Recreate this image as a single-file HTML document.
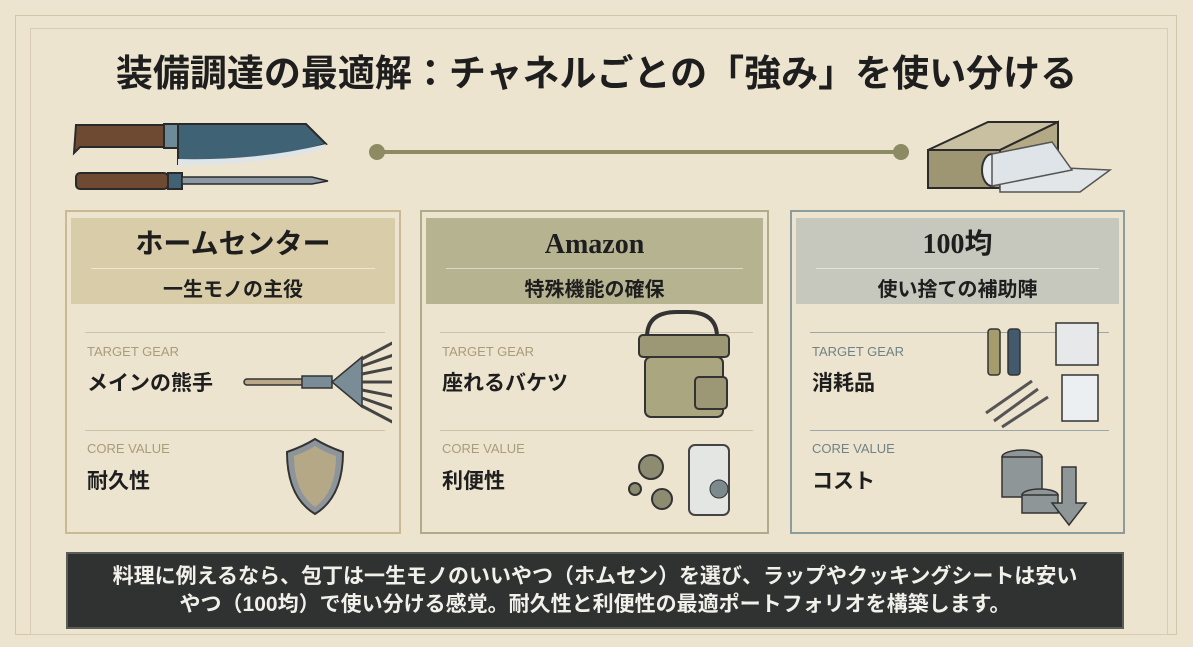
<!DOCTYPE html>
<html><head><meta charset="utf-8"><style>
*{margin:0;padding:0;box-sizing:border-box}
body{width:1193px;height:647px;background:#ede4cf;position:relative;overflow:hidden;font-family:"Liberation Sans","Noto Sans CJK JP",sans-serif;color:#1e1e1e}
.abs{position:absolute}
.title{left:0;width:1193px;top:44px;text-align:center;font-size:37px;font-weight:bold;font-family:"Noto Sans CJK JP",sans-serif;letter-spacing:0px;line-height:52px}
.card{position:absolute;top:210px;height:324px;border:2px solid}
.hd{position:absolute;left:4px;right:4px;top:6px;height:86px;text-align:center}
.hd .h1{font-size:28px;font-weight:bold;margin-top:10px;height:34px;line-height:34px;font-family:"Liberation Serif","Noto Sans CJK JP",serif}
.hd .sep{margin:6px 20px 0;border-top:1px solid rgba(255,255,255,.5)}
.hd .h2{font-size:20px;font-weight:bold;margin-top:4px}
.line{position:absolute;left:18px;right:14px;border-top:1.5px solid}
.lbl{position:absolute;left:20px;font-size:13px}
.val{position:absolute;left:20px;font-size:21px;font-weight:bold}
.bottom{left:66px;top:552px;width:1058px;height:77px;background:#2f3231;border:2px solid #5a5c58;color:#f2f0ea;font-size:21px;font-weight:bold;text-align:center;line-height:28px;padding-top:9px;white-space:nowrap}
</style></head><body>
<div class="abs" style="left:15px;top:15px;width:1162px;height:620px;border:1.5px solid #d2c6ab"></div>
<div class="abs" style="left:30px;top:28px;width:1138px;height:607px;border:1px solid #d8cdb4"></div>
<div class="abs title">装備調達の最適解：チャネルごとの「強み」を使い分ける</div>

<svg class="abs" style="left:70px;top:115px" width="300" height="80">
<path d="M6 10 h88 v22 h-84 l-6 6z" fill="#6e4a33" stroke="#2a2a2a" stroke-width="2"/>
<rect x="94" y="9" width="14" height="24" fill="#6d8a99" stroke="#2a2a2a" stroke-width="2"/>
<path d="M108 9 h128 l20 20 q-60 20 -148 20z" fill="#3f6274" stroke="#2a2a2a" stroke-width="2"/>
<path d="M108 44 q80 2 148 -15 l-2 5 q-60 16 -146 17z" fill="#dfe4e6"/>
<rect x="6" y="58" width="92" height="16" rx="4" fill="#6e4a33" stroke="#2a2a2a" stroke-width="2"/>
<rect x="98" y="58" width="14" height="16" fill="#3f6274" stroke="#2a2a2a" stroke-width="2"/>
<path d="M112 62 h130 l16 4 l-16 3 h-130z" fill="#8b9aa2" stroke="#2a2a2a" stroke-width="1.5"/>
</svg>
<div class="abs" style="left:378px;top:150px;width:522px;height:4px;background:#8d8b63"></div>
<div class="abs" style="left:369px;top:144px;width:16px;height:16px;border-radius:50%;background:#8d8b63"></div>
<div class="abs" style="left:893px;top:144px;width:16px;height:16px;border-radius:50%;background:#8d8b63"></div>
<svg class="abs" style="left:920px;top:110px" width="200" height="90">
<path d="M8 40 l60 -28 h70 l-58 28z" fill="#c8c0a0" stroke="#2a2a2a" stroke-width="2"/>
<path d="M8 40 h72 v38 h-72z" fill="#9e9672" stroke="#2a2a2a" stroke-width="2"/>
<path d="M80 40 l58 -28 v38 l-58 28z" fill="#b3aa85" stroke="#2a2a2a" stroke-width="2"/>
<path d="M80 55 l110 5 l-30 22 l-80 0z" fill="#e3e6e8" stroke="#555" stroke-width="1.5"/>
<ellipse cx="72" cy="60" rx="10" ry="16" fill="#e8ecef" stroke="#333" stroke-width="2"/>
<path d="M72 44 l60 -12 l20 28 l-80 16z" fill="#dfe4e8" stroke="#555" stroke-width="1.5"/>
</svg>

<!-- card 1 -->
<div class="card" style="left:65px;width:336px;border-color:#cbb994;">
<div class="hd" style="background:#d9cca9"><div class="h1">ホームセンター</div><div class="sep"></div><div class="h2">一生モノの主役</div></div>
<div class="line" style="top:120px;border-color:#cfc3a6"></div>
<div class="lbl" style="top:132px;color:#a99c7a">TARGET GEAR</div>
<div class="val" style="top:155px">メインの熊手</div>
<div class="line" style="top:218px;border-color:#cfc3a6"></div>
<div class="lbl" style="top:229px;color:#a99c7a">CORE VALUE</div>
<div class="val" style="top:253px">耐久性</div>
<svg class="abs" style="left:175px;top:112px" width="150" height="205">
<rect x="2" y="55" width="60" height="6" rx="3" fill="#b9a98a" stroke="#333" stroke-width="1.5"/>
<rect x="60" y="52" width="30" height="12" fill="#7a8c96" stroke="#333" stroke-width="1.5"/>
<path d="M90 58 l30 -25 v50z" fill="#7a8c96" stroke="#333" stroke-width="1.5"/>
<g stroke="#444" stroke-width="3" fill="none"><path d="M120 35 l38 -20"/><path d="M120 42 l40 -14"/><path d="M120 50 l40 -8"/><path d="M120 58 l40 0"/><path d="M120 66 l40 8"/><path d="M120 74 l40 14"/><path d="M120 82 l38 20"/></g>
<path d="M45 128 q17 -6 28 -13 q11 7 28 13 q0 45 -28 62 q-28 -17 -28 -62z" fill="#8e959a" stroke="#333" stroke-width="2"/>
<path d="M52 132 q12 -4 21 -10 q9 6 21 10 q0 36 -21 51 q-21 -15 -21 -51z" fill="#b5a886"/>
</svg>
</div>

<!-- card 2 -->
<div class="card" style="left:420px;width:349px;border-color:#b0ab88;">
<div class="hd" style="background:#b6b391"><div class="h1">Amazon</div><div class="sep"></div><div class="h2">特殊機能の確保</div></div>
<div class="line" style="top:120px;border-color:#cfc3a6"></div>
<div class="lbl" style="top:132px;color:#a99c7a">TARGET GEAR</div>
<div class="val" style="top:155px">座れるバケツ</div>
<div class="line" style="top:218px;border-color:#cfc3a6"></div>
<div class="lbl" style="top:229px;color:#a99c7a">CORE VALUE</div>
<div class="val" style="top:253px">利便性</div>
<svg class="abs" style="left:205px;top:95px" width="130" height="220">
<path d="M20 30 q0 -25 30 -25 h10 q30 0 30 25" fill="none" stroke="#333" stroke-width="4"/>
<rect x="12" y="28" width="90" height="22" rx="4" fill="#9c9775" stroke="#333" stroke-width="2"/>
<rect x="18" y="50" width="78" height="60" rx="6" fill="#aaa67f" stroke="#333" stroke-width="2"/>
<rect x="68" y="70" width="32" height="32" rx="4" fill="#9c9775" stroke="#333" stroke-width="2"/>
<rect x="62" y="138" width="40" height="70" rx="6" fill="#e4e6e3" stroke="#444" stroke-width="2"/>
<circle cx="92" cy="182" r="9" fill="#7d8a8d" stroke="#333"/>
<circle cx="24" cy="160" r="12" fill="#8d8b70" stroke="#333" stroke-width="2"/>
<circle cx="35" cy="192" r="10" fill="#8d8b70" stroke="#333" stroke-width="2"/>
<circle cx="8" cy="182" r="6" fill="#8d8b70" stroke="#333" stroke-width="2"/>
</svg>
</div>

<!-- card 3 -->
<div class="card" style="left:790px;width:335px;border-color:#8a9c9c;">
<div class="hd" style="background:#c6c7bd"><div class="h1">100均</div><div class="sep"></div><div class="h2">使い捨ての補助陣</div></div>
<div class="line" style="top:120px;border-color:#9aa9a8"></div>
<div class="lbl" style="top:132px;color:#6f8384">TARGET GEAR</div>
<div class="val" style="top:155px">消耗品</div>
<div class="line" style="top:218px;border-color:#9aa9a8"></div>
<div class="lbl" style="top:229px;color:#6f8384">CORE VALUE</div>
<div class="val" style="top:253px">コスト</div>
<svg class="abs" style="left:190px;top:105px" width="140" height="210">
<rect x="6" y="12" width="12" height="46" rx="3" fill="#a49c6c" stroke="#333" stroke-width="1.5"/>
<rect x="26" y="12" width="12" height="46" rx="3" fill="#425a6b" stroke="#333" stroke-width="1.5"/>
<rect x="74" y="6" width="42" height="42" fill="#e6e8ea" stroke="#333" stroke-width="1.5"/>
<rect x="80" y="58" width="36" height="46" fill="#eceff1" stroke="#333" stroke-width="1.5"/>
<g stroke="#555" stroke-width="3"><path d="M4 96 l46 -32"/><path d="M12 104 l44 -32"/><path d="M20 110 l46 -30"/></g>
<g fill="#8f9698" stroke="#333" stroke-width="1.5"><ellipse cx="40" cy="140" rx="20" ry="7"/><rect x="20" y="140" width="40" height="40"/><ellipse cx="58" cy="178" rx="18" ry="6"/><rect x="40" y="178" width="36" height="18"/></g>
<path d="M80 150 h14 v36 h10 l-17 22 l-17 -22 h10z" fill="#8f9698" stroke="#333" stroke-width="1.5"/>
</svg>
</div>

<div class="abs bottom">料理に例えるなら、包丁は一生モノのいいやつ（ホムセン）を選び、ラップやクッキングシートは安い<br>やつ（100均）で使い分ける感覚。耐久性と利便性の最適ポートフォリオを構築します。</div>
</body></html>
